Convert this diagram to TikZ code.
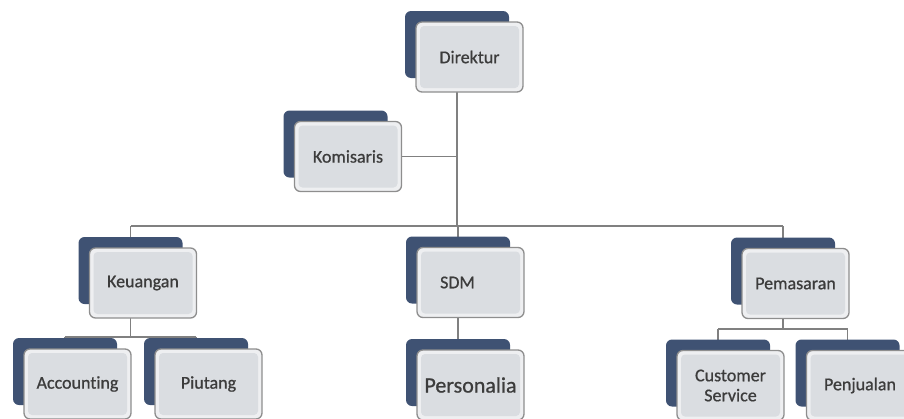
\documentclass[tikz,border=0pt]{standalone}
\usepackage{fontspec}
\setmainfont{Carlito}[Ligatures={NoCommon}, FakeBold=0.8]
\usetikzlibrary{backgrounds}

\definecolor{slate}{HTML}{3F5273}
\definecolor{cardedge}{HTML}{8E8E8E}
\definecolor{cardrim}{HTML}{EEEFF1}
\definecolor{cardface}{HTML}{DADDE1}
\definecolor{linkgray}{HTML}{808080}
\definecolor{ink}{HTML}{3C3C3C}

\tikzset{
  backcard/.style={fill=slate, rounded corners=6pt, minimum width=104pt,
    minimum height=67pt, inner sep=0pt},
  card/.style={draw=cardedge, line width=1.3pt, fill=cardrim, rounded corners=6pt,
    minimum width=107pt, minimum height=70pt, inner sep=0pt, text=ink,
    font=\fontsize{18}{20}\selectfont, align=center,
    path picture={\fill[cardface, rounded corners=4pt]
      ([shift={(4pt,-4pt)}]path picture bounding box.north west) rectangle
      ([shift={(-4pt,4pt)}]path picture bounding box.south east);}},
  bigtext/.style={font=\fontsize{22}{24}\selectfont},
  link/.style={draw=linkgray, line width=1.8pt}
}

% one unit of the chart: a dark card behind a light card holding the title
\newcommand\orgunit[5][]{%
  \node[backcard] (#2-b) at (#3-12.5,#4-12.5) {};
  \node[card,#1] (#2) at (#3,#4) {#5};}

\begin{document}
\begin{tikzpicture}[x=1pt,y=-1pt]
  \useasboundingbox (0,0) rectangle (904,418);
  \clip (0,0) rectangle (904,418);

  \orgunit{dir}{469.5}{57}{Direktur}
  \orgunit{kom}{348}{156.5}{Komisaris}
  \orgunit{keu}{143}{283}{Keuangan}
  \orgunit{sdm}{470.5}{282.5}{\hspace*{-26pt}SDM}
  \orgunit{pem}{795.5}{283.5}{Pemasaran}
  \orgunit{acc}{77.5}{384}{Accounting}
  \orgunit{piu}{208.5}{384}{Piutang}
  \orgunit[bigtext]{per}{470.5}{385}{Personalia}
  \orgunit{cs}{730.5}{385.5}{Customer\\Service}
  \orgunit{pej}{860}{385.5}{Penjualan}

  \coordinate (bus) at (457,226);
  \coordinate (kbus) at (130,337);
  \coordinate (pbus) at (783,329);

  \begin{pgfonlayer}{background}
    % trunk from the director and the side branch to the commissioner
    \draw[link] (dir-b.center) -- (bus);
    \draw[link] (kom.east) -- (kom.east -| dir-b);
    % main bus to the three departments
    \draw[link] (keu-b |- bus) -- (pem-b |- bus);
    \draw[link] (keu-b |- bus) -- (keu-b.center);
    \draw[link] (sdm-b |- bus) -- (sdm-b.center);
    \draw[link] (pem-b |- bus) -- (pem-b.center);
    % finance sub-units
    \draw[link] (keu-b.center) -- (keu-b |- kbus);
    \draw[link] (acc-b |- kbus) -- (piu-b |- kbus);
    \draw[link] (acc-b |- kbus) -- (acc-b.center);
    \draw[link] (piu-b |- kbus) -- (piu-b.center);
    % human resources sub-unit
    \draw[link] (sdm-b.center) -- (per-b.center);
    % marketing sub-units
    \draw[link] (pem-b.center) -- (pem-b |- pbus);
    \draw[link] (cs-b |- pbus) -- (pej-b |- pbus);
    \draw[link] (cs-b |- pbus) -- (cs-b.center);
    \draw[link] (pej-b |- pbus) -- (pej-b.center);
  \end{pgfonlayer}
\end{tikzpicture}
\end{document}
